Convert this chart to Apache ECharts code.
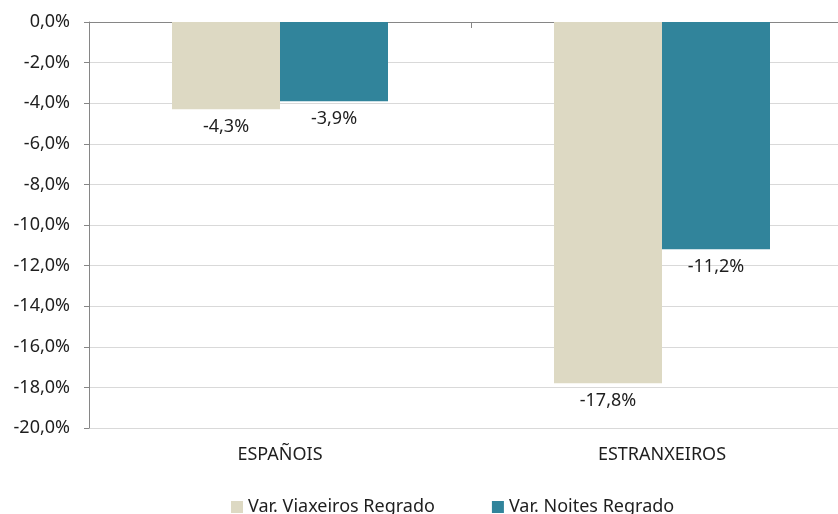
<!DOCTYPE html>
<html>
<head>
<meta charset="utf-8">
<script src="https://cdn.jsdelivr.net/npm/echarts@6/dist/echarts.min.js"></script>
<style>html,body{margin:0;padding:0;background:#fff;overflow:hidden}#c{width:870px;height:514px}</style>
</head>
<body>
<div id="c"></div>
<script>
var categories = ['ESPAÑOIS', 'ESTRANXEIROS'];
var seriesNames = ['Var. Viaxeiros Regrado', 'Var. Noites Regrado'];
var viaxeiros = [-4.3, -17.8];
var noites = [-3.9, -11.2];
var yMin = -20, yMax = 0, yStep = 2;

function fmt(v) { return v.toFixed(1).replace('.', ',') + '%'; }

var FONT = 'Noto Sans';
var TXT = '#1e1e1e';
var FS = 18;
var chart = echarts.init(document.getElementById('c'), null, {renderer: 'canvas'});
chart.setOption({
  animation: false,
  textStyle: {fontFamily: FONT},
  grid: {left: 89, top: 22, width: 764, height: 406, containLabel: false},
  legend: {
    top: 493, left: 226,
    itemWidth: 12, itemHeight: 12, itemGap: 57,
    icon: 'rect',
    textStyle: {fontFamily: FONT, fontSize: FS, color: TXT},
    data: seriesNames
  },
  xAxis: [{
    type: 'category', data: categories, position: 'bottom',
    axisLine: {show: false, onZero: false}, axisTick: {show: false},
    axisLabel: {fontFamily: FONT, fontSize: FS, color: TXT, margin: 18}
  }, {
    type: 'category', data: categories, position: 'top',
    axisLine: {show: true, lineStyle: {color: '#868686', width: 1}},
    axisTick: {show: true, inside: true, length: 6, lineStyle: {color: '#868686'}},
    axisLabel: {show: false}
  }],
  yAxis: {
    type: 'value', min: yMin, max: yMax, interval: yStep,
    axisLine: {show: true, lineStyle: {color: '#868686'}},
    axisTick: {show: true, length: 5, lineStyle: {color: '#868686'}},
    splitLine: {lineStyle: {color: '#d9d9d9', width: 1}},
    axisLabel: {fontFamily: FONT, fontSize: FS, color: TXT, margin: 19, formatter: fmt}
  },
  series: [{
    name: seriesNames[0], type: 'bar', data: viaxeiros, barWidth: 108, barGap: '0%',
    itemStyle: {color: '#DDD9C3'},
    label: {show: true, position: 'bottom', distance: 9, fontFamily: FONT, fontSize: FS, color: TXT, formatter: function(p){return fmt(p.value);}}
  }, {
    name: seriesNames[1], type: 'bar', data: noites, barWidth: 108, barGap: '0%',
    itemStyle: {color: '#31849B'},
    label: {show: true, position: 'bottom', distance: 9, fontFamily: FONT, fontSize: FS, color: TXT, formatter: function(p){return fmt(p.value);}}
  }]
});
</script>
</body>
</html>
